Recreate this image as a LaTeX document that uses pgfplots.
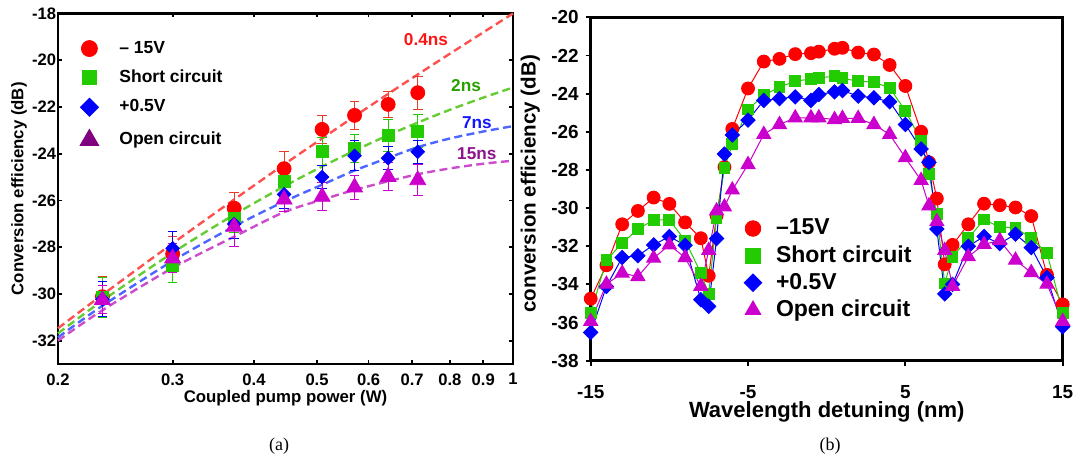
\documentclass[border=0pt]{standalone}
\usepackage{pgfplots}
\usepackage{pgfplotstable}
\pgfplotsset{compat=1.18}
\usepackage{fontspec}
\setmainfont{Liberation Sans}
\newfontfamily\serifont{Liberation Serif}
\definecolor{cred}{RGB}{255,0,0}
\definecolor{cgreen}{RGB}{34,204,0}
\definecolor{cblue}{RGB}{0,0,255}
\definecolor{cmag}{RGB}{204,0,204}
\definecolor{cpurp}{RGB}{128,0,128}
\definecolor{dred}{RGB}{255,80,80}
\definecolor{dgreen}{RGB}{102,204,51}
\definecolor{dblue}{RGB}{77,102,255}
\definecolor{dmag}{RGB}{204,77,204}
\definecolor{lred}{RGB}{255,20,20}
\definecolor{lgreen}{RGB}{40,160,0}
\definecolor{lblue}{RGB}{20,20,255}
\definecolor{lpurp}{RGB}{140,20,140}
\definecolor{ered}{RGB}{230,60,40}

\pgfplotstableread{
x r re g ge b be m me
0.234 -30.12 0.85 -30.16 0.85 -30.23 0.75 -30.26 0.6
0.3 -28.29 0.75 -28.79 0.72 -28.05 0.7 -28.48 0.62
0.373 -26.33 0.65 -26.78 0.6 -27.01 0.6 -27.12 0.85
0.445 -24.64 0.75 -25.2 0.6 -25.74 0.6 -25.96 0.5
0.509 -22.96 0.6 -23.89 0.6 -25.0 0.5 -25.84 0.6
0.571 -22.36 0.6 -23.79 0.6 -24.09 0.65 -25.44 0.5
0.643 -21.89 0.55 -23.22 0.7 -24.19 0.5 -24.99 0.6
0.714 -21.39 0.7 -23.03 0.7 -23.92 0.5 -25.13 0.65
}\leftdata

\pgfplotstableread{
x r g b m
0.2 -31.47 -31.69 -31.86 -32.0
0.234 -30.04 -30.29 -30.51 -30.70
0.3 -27.84 -28.24 -28.59 -28.89
0.373 -25.96 -26.61 -27.11 -27.55
0.445 -24.46 -25.40 -26.05 -26.5
0.509 -23.35 -24.55 -25.33 -25.97
0.571 -22.40 -23.87 -24.72 -25.55
0.643 -21.44 -23.21 -24.18 -25.18
0.714 -20.61 -22.67 -23.72 -24.88
0.8 -19.72 -22.12 -23.35 -24.63
0.9 -18.81 -21.60 -23.05 -24.43
1.0 -18.0 -21.17 -22.82 -24.3
}\fitdata

\pgfplotstableread{
x r g b m
-15 -34.75 -35.5 -36.52 -35.94
-14 -33.0 -32.73 -34.11 -33.99
-13 -30.85 -31.84 -32.59 -33.41
-12 -30.15 -31.11 -32.5 -33.59
-11 -29.45 -30.62 -31.93 -32.63
-10 -29.78 -30.62 -31.49 -31.93
-9 -30.75 -31.7 -31.95 -32.6
-8 -31.58 -33.4 -34.8 -34.1
-7.5 -33.55 -34.5 -35.15 -32.22
-7 -30.4 -30.5 -31.6 -30.15
-6.5 -27.85 -27.9 -27.17 -29.94
-6 -25.85 -26.66 -26.17 -29.05
-5 -23.73 -24.83 -25.39 -27.72
-4 -22.32 -24.08 -24.36 -26.14
-3 -22.18 -23.66 -24.26 -25.62
-2 -21.93 -23.35 -24.17 -25.27
-1 -21.88 -23.23 -24.36 -25.27
-0.5 -21.8 -23.17 -24.05 -25.27
0.5 -21.65 -23.09 -23.91 -25.36
1 -21.6 -23.2 -23.84 -25.3
2 -21.85 -23.35 -24.13 -25.3
3 -21.95 -23.4 -24.22 -25.62
4 -22.5 -23.7 -24.43 -26.14
5 -23.6 -24.9 -25.62 -27.36
6 -26.0 -26.47 -26.9 -28.55
6.5 -27.6 -28.2 -27.6 -29.88
7 -29.5 -30.33 -31.1 -30.71
7.5 -32.95 -33.95 -34.5 -32.22
8 -31.93 -32.55 -34.0 -34.1
9 -30.85 -31.58 -32.0 -32.55
10 -29.77 -30.6 -31.49 -31.9
11 -29.85 -31.0 -31.86 -31.7
12 -29.97 -31.03 -31.37 -32.73
13 -30.42 -31.58 -32.07 -33.38
14 -33.5 -32.35 -33.64 -33.99
15 -35.05 -35.5 -36.22 -35.94
}\rightdata

\begin{document}
\begin{tikzpicture}
\useasboundingbox (0,0) rectangle (538.5pt,227pt);
% ---------------- left panel ----------------
\begin{axis}[
  at={(29pt,45pt)}, anchor=south west,
  width=227.5pt, height=175.25pt, scale only axis,
  xmode=log, xmin=0.2, xmax=1, ymin=-33, ymax=-18,
  xtick={0.2,0.3,0.4,0.5,0.6,0.7,0.8,0.9,1},
  xticklabels={0.2,0.3,0.4,0.5,0.6,0.7,0.8,0.9,1},
  minor xtick={},
  ytick={-32,-30,...,-18},
  tick align=inside, major tick length=2pt,
  axis line style={line width=1.3pt},
  every tick/.style={black, line width=0.9pt},
  /pgf/number format/assume math mode=true,
  ticklabel style={font=\bfseries\fontsize{8.3}{9.5}\selectfont},
  yticklabel style={inner xsep=0.8pt},
  xticklabel style={yshift=-1.2pt},
  xlabel={Coupled pump power (W)},
  ylabel={Conversion efficiency (dB)},
  label style={font=\bfseries\fontsize{8.4}{10}\selectfont},
  xlabel style={at={(axis description cs:0.5,-0.097)}, anchor=center},
  ylabel style={at={(axis description cs:-0.0857,0.5)}, anchor=center},
  clip=false,
  legend style={at={(axis description cs:0.0418,0.924)}, anchor=north west,
    draw=none, fill=none, inner sep=0pt, row sep=6.5pt, column sep=3pt,
    nodes={inner sep=0pt},
    font=\bfseries\fontsize{8.75}{10}\selectfont},
  legend cell align=left,
  legend image code/.code={\path[draw=none,fill=none] (-6pt,-1pt) rectangle (12pt,1pt); \draw[#1] plot coordinates {(0pt,0pt)};},
]
\addlegendimage{only marks, mark=*, cred, mark size=4pt}
\addlegendentry{– 15V}
\addlegendimage{only marks, mark=square*, cgreen, mark size=3.7pt}
\addlegendentry{Short circuit}
\addlegendimage{only marks, mark=square*, cblue, mark size=3.2pt, mark options={rotate=45}}
\addlegendentry{+0.5V}
\addlegendimage{only marks, mark=triangle*, cpurp, mark size=5.4pt}
\addlegendentry{Open circuit}

\addplot[dred, line width=1.2pt, dash pattern=on 4pt off 2.2pt, smooth, forget plot] table[x=x,y=r] {\fitdata};
\addplot[dgreen, line width=1.2pt, dash pattern=on 4pt off 2.2pt, smooth, forget plot] table[x=x,y=g] {\fitdata};
\addplot[dblue, line width=1.2pt, dash pattern=on 4pt off 2.2pt, smooth, forget plot] table[x=x,y=b] {\fitdata};
\addplot[dmag, line width=1.2pt, dash pattern=on 4pt off 2.2pt, smooth, forget plot] table[x=x,y=m] {\fitdata};

\addplot[cred, only marks, mark=*, mark size=3.5pt, forget plot,
  error bars/.cd, y dir=both, y explicit,
  error bar style={line width=0.5pt, color=ered},
  error mark options={rotate=90, mark size=2.4pt, line width=0.5pt, color=ered}]
  table[x=x,y=r,y error=re] {\leftdata};
\addplot[cgreen, only marks, mark=square*, mark size=3pt, forget plot,
  error bars/.cd, y dir=both, y explicit,
  error bar style={line width=0.5pt, color=cgreen},
  error mark options={rotate=90, mark size=2.4pt, line width=0.5pt, color=cgreen}]
  table[x=x,y=g,y error=ge] {\leftdata};
\addplot[cblue, only marks, mark=square*, mark size=2.4pt, mark options={rotate=45}, forget plot,
  error bars/.cd, y dir=both, y explicit,
  error bar style={line width=0.5pt, color=cblue},
  error mark options={rotate=90, mark size=2.4pt, line width=0.5pt, color=cblue}]
  table[x=x,y=b,y error=be] {\leftdata};
\addplot[cmag, only marks, mark=triangle*, mark size=4.6pt, forget plot,
  error bars/.cd, y dir=both, y explicit,
  error bar style={line width=0.5pt, color=cmag},
  error mark options={rotate=90, mark size=2.4pt, line width=0.5pt, color=cmag}]
  table[x=x,y=m,y error=me] {\leftdata};

\node[text=lred, font=\bfseries\fontsize{8.6}{10}\selectfont] at (axis cs:0.735,-19.1) {0.4ns};
\node[text=lgreen, font=\bfseries\fontsize{8.6}{10}\selectfont] at (axis cs:0.847,-21.1) {2ns};
\node[text=lblue, font=\bfseries\fontsize{8.6}{10}\selectfont] at (axis cs:0.88,-22.68) {7ns};
\node[text=lpurp, font=\bfseries\fontsize{8.6}{10}\selectfont] at (axis cs:0.88,-23.99) {15ns};
\end{axis}

% ---------------- right panel ----------------
\begin{axis}[
  at={(295.35pt,46.65pt)}, anchor=south west,
  width=236pt, height=171.7pt, scale only axis,
  xmin=-15, xmax=15, ymin=-38, ymax=-20,
  xtick={-15,-5,5,15}, ytick={-38,-36,...,-20},
  tick align=outside, xtick pos=bottom, ytick pos=left, major tick length=2.5pt,
  axis line style={line width=1.3pt},
  every tick/.style={black, line width=0.9pt},
  /pgf/number format/assume math mode=true,
  ticklabel style={font=\bfseries\fontsize{9.45}{11}\selectfont},
  xticklabel style={yshift=-6.5pt},
  xlabel={Wavelength detuning (nm)},
  ylabel={conversion efficiency (dB)},
  xlabel style={font=\bfseries\fontsize{11}{13}\selectfont, at={(axis description cs:0.5,-0.1485)}, anchor=center},
  ylabel style={font=\bfseries\fontsize{10.3}{12}\selectfont, at={(axis description cs:-0.128,0.515)}, anchor=center},
  clip=false,
  legend style={at={(axis description cs:0.3176,0.4135)}, anchor=north west,
    draw=none, fill=none, inner sep=0pt, row sep=3.9pt, column sep=3pt,
    nodes={inner sep=0pt},
    font=\bfseries\fontsize{11.5}{13}\selectfont},
  legend cell align=left,
  legend image code/.code={\path[draw=none,fill=none] (-6pt,-1pt) rectangle (8.5pt,1pt); \draw[#1] plot coordinates {(0pt,0pt)};},
]
\addlegendimage{only marks, mark=*, cred, mark size=3.9pt}
\addlegendentry{–15V}
\addlegendimage{only marks, mark=square*, cgreen, mark size=3.8pt}
\addlegendentry{Short circuit}
\addlegendimage{only marks, mark=square*, cblue, mark size=3.1pt, mark options={rotate=45}}
\addlegendentry{+0.5V}
\addlegendimage{only marks, mark=triangle*, cmag, mark size=4.5pt}
\addlegendentry{Open circuit}

\addplot[cred, line width=0.5pt, mark=*, mark size=3.2pt, forget plot] table[x=x,y=r] {\rightdata};
\addplot[cgreen, line width=0.5pt, mark=square*, mark size=2.7pt, forget plot] table[x=x,y=g] {\rightdata};
\addplot[cblue, line width=0.5pt, mark=square*, mark size=2.5pt, mark options={rotate=45}, forget plot] table[x=x,y=b] {\rightdata};
\addplot[cmag, line width=0.5pt, mark=triangle*, mark size=4pt, forget plot] table[x=x,y=m] {\rightdata};
\end{axis}

\node[font=\serifont\fontsize{9}{10}\selectfont] at (139.5pt,3.9pt) {(a)};
\node[font=\serifont\fontsize{9}{10}\selectfont] at (415pt,3.9pt) {(b)};
\end{tikzpicture}
\end{document}
